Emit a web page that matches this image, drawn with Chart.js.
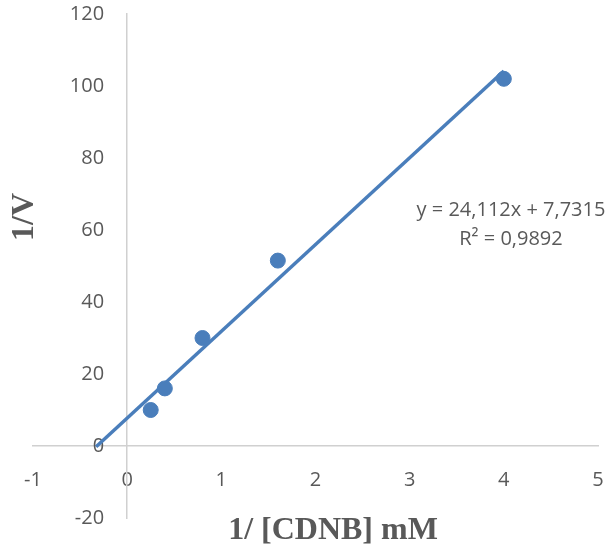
<!DOCTYPE html>
<html>
<head>
<meta charset="utf-8">
<script src="https://cdn.jsdelivr.net/npm/chart.js@4.4.1/dist/chart.umd.min.js"></script>
<style>
  html, body { margin: 0; padding: 0; background: #fff; }
  #wrap { width: 609px; height: 550px; position: relative; }
</style>
</head>
<body>
<div id="wrap"><canvas id="lbChart" width="609" height="550"></canvas></div>
<script>
// 1/[CDNB] (mM^-1) vs 1/V
var invS = [0.25, 0.4, 0.8, 1.6, 4];
var invV = [10, 16, 30, 51.5, 102];

// linear trendline shown in the sheet
var slope = 24.112;
var intercept = 7.7315;
var trendX = [-0.33, 4];
var eqLines = ['y = 24,112x + 7,7315', 'R\u00b2 = 0,9892'];

var xTicks = [-1, 0, 1, 2, 3, 4, 5];
var yTicks = [-20, 0, 20, 40, 60, 80, 100, 120];

var blue = '#4a7ebb';
var grey = '#595959';
var tickFont = { size: 20, family: '"Open Sans", "Liberation Sans", sans-serif' };

var titlesPlugin = {
    id: 'titles',
    // y labels on a crossing axis ignore ticks.padding, push them left by hand
    afterLayout: function (chart) {
        var items = chart.scales.y.getLabelItems();
        items.forEach(function (it) { it.options.translation[0] -= 23; });
    },
    afterDraw: function (chart) {
        var c = chart.ctx;
        c.save();
        c.fillStyle = grey;
        c.font = 'bold 32px "Liberation Serif", "Times New Roman", serif';
        c.textAlign = 'center';
        c.textBaseline = 'middle';
        c.fillText('1/ [CDNB] mM', 333, 531);
        c.translate(25, 217);
        c.rotate(-Math.PI / 2);
        c.fillText('1/V', 0, 0);
        c.restore();

        // trendline label
        c.save();
        c.fillStyle = grey;
        c.font = '20px "Open Sans", "Liberation Sans", sans-serif';
        c.textAlign = 'center';
        c.textBaseline = 'middle';
        c.fillText(eqLines[0], 511, 210);
        c.fillText(eqLines[1], 511, 239);
        c.restore();
    }
};

function noPad(s) {
    s.paddingTop = 0;
    s.paddingBottom = 0;
    s.paddingLeft = 0;
    s.paddingRight = 0;
}

var ctx = document.getElementById('lbChart').getContext('2d');

var lbChart = new Chart(ctx, {
    type: 'scatter',
    data: {
        datasets: [
            {
                label: 'data',
                data: invS.map(function (x, i) { return { x: x, y: invV[i] }; }),
                backgroundColor: blue,
                borderColor: blue,
                pointRadius: 7.5,
                pointHoverRadius: 7.5,
                order: 1
            },
            {
                type: 'line',
                label: 'trend',
                data: trendX.map(function (x) { return { x: x, y: slope * x + intercept }; }),
                borderColor: blue,
                borderWidth: 3.5,
                pointRadius: 0,
                fill: false,
                order: 0
            }
        ]
    },
    options: {
        responsive: false,
        animation: false,
        layout: {
            padding: { left: 33, right: 11, top: 14, bottom: 32 }
        },
        plugins: {
            legend: { display: false },
            tooltip: { enabled: false }
        },
        scales: {
            x: {
                type: 'linear',
                position: { y: 0 },
                min: -1,
                max: 5,
                afterBuildTicks: function (s) { s.ticks = xTicks.map(function (v) { return { value: v }; }); },
                afterFit: noPad,
                grid: { display: false },
                border: { display: true, color: '#d0d0d0', width: 1.5 },
                ticks: {
                    color: grey,
                    padding: 14,
                    autoSkip: false,
                    maxRotation: 0,
                    font: tickFont
                }
            },
            y: {
                type: 'linear',
                position: { x: 0 },
                min: -20,
                max: 120,
                afterBuildTicks: function (s) { s.ticks = yTicks.map(function (v) { return { value: v }; }); },
                afterFit: noPad,
                grid: { display: false },
                border: { display: true, color: '#d0d0d0', width: 1.5 },
                ticks: {
                    color: grey,
                    autoSkip: false,
                    font: tickFont
                }
            }
        }
    },
    plugins: [titlesPlugin]
});
</script>
</body>
</html>
